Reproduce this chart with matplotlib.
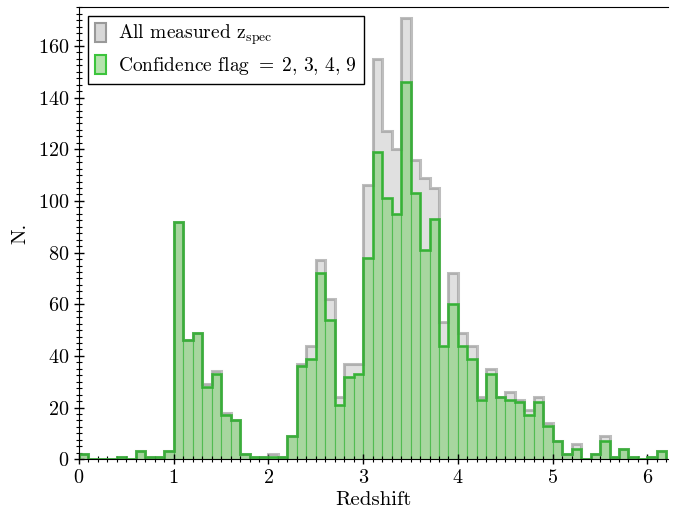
import numpy as np
import matplotlib
matplotlib.use('Agg')
import matplotlib.pyplot as plt
from matplotlib.ticker import MultipleLocator
from matplotlib.patches import Patch

plt.rcParams['font.family'] = 'serif'
plt.rcParams['font.serif'] = ['cmr10']
plt.rcParams['mathtext.fontset'] = 'cm'
plt.rcParams['axes.unicode_minus'] = False
plt.rcParams['axes.formatter.use_mathtext'] = True

# histogram bins (width 0.1 from 0 to 6.2)
bin_edges = np.round(np.arange(0, 6.25, 0.1), 2)

# counts per bin
all_counts = [2, 0, 0, 0, 1, 0, 3, 1, 1, 3,
              92, 46, 49, 29, 34, 18, 15, 2, 1, 1,
              2, 1, 9, 37, 44, 77, 62, 24, 37, 37,
              106, 155, 127, 120, 171, 116, 109, 105, 53, 72,
              49, 44, 24, 35, 24, 26, 23, 19, 24, 14,
              7, 2, 6, 0, 2, 9, 1, 4, 1, 0,
              1, 3]
flag_counts = [2, 0, 0, 0, 1, 0, 3, 1, 1, 3,
               92, 46, 49, 28, 33, 17, 15, 2, 1, 1,
               1, 1, 9, 36, 39, 72, 54, 21, 32, 33,
               78, 119, 101, 95, 146, 103, 81, 93, 44, 60,
               44, 39, 23, 33, 24, 23, 22, 17, 22, 13,
               7, 2, 4, 0, 2, 7, 1, 4, 1, 0,
               1, 3]

centers = (bin_edges[:-1] + bin_edges[1:]) / 2

fig, ax = plt.subplots(figsize=(6.75, 5.16), dpi=100)
fig.subplots_adjust(left=0.117, right=0.99, bottom=0.11, top=0.986)

# all measured
ax.hist(centers, bins=bin_edges, weights=all_counts, histtype='bar',
        color='#cccccc', alpha=0.6, edgecolor='none')
ax.hist(centers, bins=bin_edges, weights=all_counts, histtype='step',
        color='#8a8a8a', lw=2.2, alpha=0.55)

# confidence flag 2,3,4,9
ax.hist(centers, bins=bin_edges, weights=flag_counts, histtype='bar',
        color='#9dd594', alpha=0.85, edgecolor='#4cbb4c', lw=0.8)
ax.hist(centers, bins=bin_edges, weights=flag_counts, histtype='step',
        color='#30b030', lw=2.0, alpha=0.85)

ax.set_xlim(0, 6.22)
ax.set_ylim(0, 175)
ax.xaxis.set_major_locator(MultipleLocator(1))
ax.xaxis.set_minor_locator(MultipleLocator(0.1))
ax.yaxis.set_major_locator(MultipleLocator(20))
ax.yaxis.set_minor_locator(MultipleLocator(2.5))
ax.tick_params(which='both', direction='inout', top=False, right=False, labelsize=14.5)
ax.tick_params(which='major', length=7, width=1)
ax.tick_params(which='minor', length=4, width=0.8)
ax.spines['right'].set_visible(False)

ax.set_xlabel('Redshift', fontsize=15, labelpad=3)
ax.set_ylabel('N.', fontsize=15, labelpad=6)

handles = [Patch(facecolor='#d8d8d8', edgecolor='#999999', lw=1.5),
           Patch(facecolor='#b5e3ad', edgecolor='#3cc43c', lw=1.5)]
labels = [r'All measured z$_{\rm spec}$', r'Confidence flag $=\;2,\,3,\,4,\,9$']
leg = ax.legend(handles, labels, loc='upper left', fontsize=14, fancybox=False,
                edgecolor='black', framealpha=1, handlelength=0.6, handleheight=1.1,
                handletextpad=0.6, borderaxespad=0.45, borderpad=0.35, labelspacing=0.4)
leg.get_frame().set_linewidth(1.0)

fig.savefig('out.png', dpi=100)
